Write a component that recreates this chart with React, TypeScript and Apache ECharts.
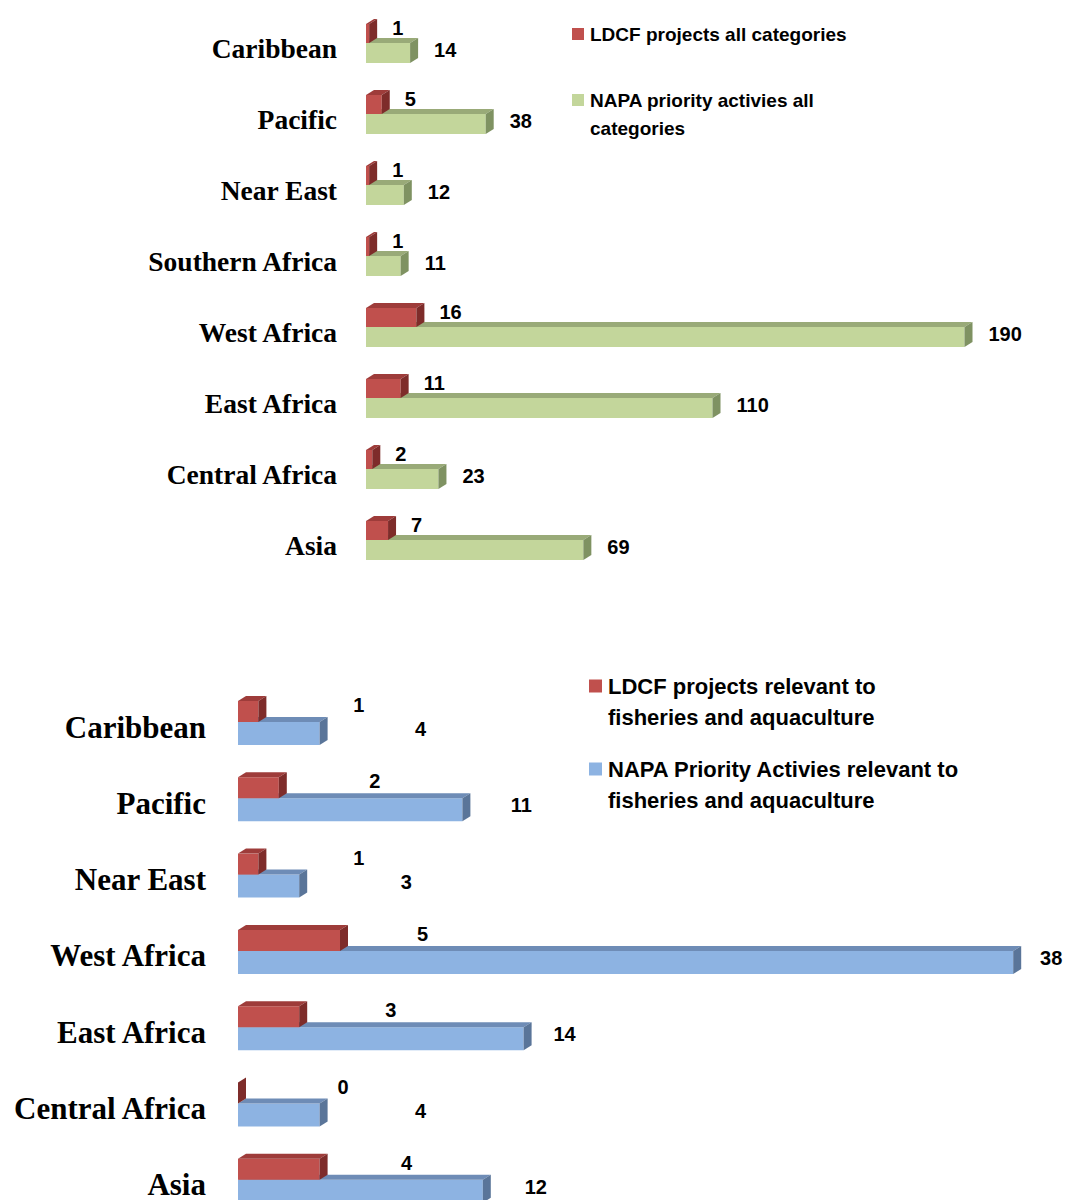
import React, { useEffect, useRef } from "react";
import * as echarts from "echarts";

const categoriesTop = ["Caribbean", "Pacific", "Near East", "Southern Africa", "West Africa", "East Africa", "Central Africa", "Asia"];
const ldcfAll = [1, 5, 1, 1, 16, 11, 2, 7];
const napaAll = [14, 38, 12, 11, 190, 110, 23, 69];

const categoriesBottom = ["Caribbean", "Pacific", "Near East", "West Africa", "East Africa", "Central Africa", "Asia"];
const ldcfFish = [1, 2, 1, 5, 3, 0, 4];
const napaFish = [4, 11, 3, 38, 14, 4, 12];

const legendTop = ["LDCF projects all categories", "NAPA priority activies all\ncategories"];
const legendBottom = ["LDCF projects relevant to\nfisheries and aquaculture", "NAPA Priority Activies relevant to\nfisheries and aquaculture"];

const RED = { front: "#C0504D", top: "#9E3C3A", side: "#7E2C2A" };
const GREEN = { front: "#C3D69B", top: "#99AA78", side: "#7F9262" };
const BLUE = { front: "#8DB3E2", top: "#6E8CB6", side: "#5A7599" };

const DX = 8;
const DY = 5;

function bar3d(x0: number, x1: number, yTop: number, yBot: number, c: any) {
  return [
    { type: "rect", shape: { x: x0, y: yTop, width: Math.max(x1 - x0, 0), height: yBot - yTop }, style: { fill: c.front } },
    { type: "polygon", shape: { points: [[x0, yTop], [x1, yTop], [x1 + DX, yTop - DY], [x0 + DX, yTop - DY]] }, style: { fill: c.top } },
    { type: "polygon", shape: { points: [[x1, yTop], [x1 + DX, yTop - DY], [x1 + DX, yBot - DY], [x1, yBot]] }, style: { fill: c.side } },
  ];
}

function label(text: string, x: number, y: number, size: number, align: string) {
  return {
    type: "text",
    x,
    y,
    style: {
      text,
      fill: "#000",
      fontFamily: "Liberation Sans",
      fontWeight: "bold",
      fontSize: size,
      align,
      verticalAlign: "middle",
      textAlign: align,
      textVerticalAlign: "middle",
    },
  };
}

function makeSeries(
  data: number[],
  axisIndex: number,
  colors: any,
  fTop: number,
  fBot: number,
  z: number,
  labelPos: (x0: number, x1: number, c: number, v: number) => [number, number],
  labelAlign: string,
  fontSize: number
) {
  return {
    type: "custom",
    xAxisIndex: axisIndex,
    yAxisIndex: axisIndex,
    z,
    data: data.map((v, i) => [v, i]),
    encode: { x: 0, y: 1 },
    renderItem: (params: any, api: any) => {
      const v = api.value(0);
      const ci = api.value(1);
      const p0 = api.coord([0, ci]);
      const p1 = api.coord([v, ci]);
      const c = p0[1];
      const [lx, ly] = labelPos(p0[0], p1[0], c, v);
      return {
        type: "group",
        children: [...bar3d(p0[0], p1[0], c + fTop, c + fBot, colors), label(String(v), lx, ly, fontSize, labelAlign)],
      };
    },
  };
}

function legendItem(x: number, y: number, color: string, text: string, size: number, lineH: number, sq: number) {
  return [
    { type: "rect", shape: { x, y: y - sq / 2, width: sq, height: sq }, style: { fill: color } },
    {
      type: "text",
      x: x + sq + 6,
      y: y - lineH / 2,
      style: {
        text,
        fill: "#000",
        fontFamily: "Liberation Sans",
        fontWeight: "bold",
        fontSize: size,
        lineHeight: lineH,
        align: "left",
        verticalAlign: "top",
        textAlign: "left",
        textVerticalAlign: "top",
      },
    },
  ];
}

export default function App() {
  const ref = useRef<HTMLDivElement>(null);
  useEffect(() => {
    document.body.style.margin = "0";
    const chart = echarts.init(ref.current!, null, { renderer: "svg" });
    const option: any = {
      animation: false,
      backgroundColor: "#ffffff",
      grid: [
        { left: 366, top: 12.5, width: 630, height: 568 },
        { left: 238, top: 688.85, width: 816, height: 534.1 },
      ],
      xAxis: [
        { type: "value", gridIndex: 0, min: 0, max: 200, show: false },
        { type: "value", gridIndex: 1, min: 0, max: 40, show: false },
      ],
      yAxis: [
        {
          type: "category",
          gridIndex: 0,
          inverse: true,
          data: categoriesTop,
          axisLine: { show: false },
          axisTick: { show: false },
          splitLine: { show: false },
          axisLabel: { margin: 29, color: "#000", fontFamily: "Liberation Serif", fontWeight: "bold", fontSize: 27.5 },
        },
        {
          type: "category",
          gridIndex: 1,
          inverse: true,
          data: categoriesBottom,
          axisLine: { show: false },
          axisTick: { show: false },
          splitLine: { show: false },
          axisLabel: { margin: 32, color: "#000", fontFamily: "Liberation Serif", fontWeight: "bold", fontSize: 31 },
        },
      ],
      series: [
        makeSeries(napaAll, 0, GREEN, -5, 15, 2, (x0, x1, c) => [x1 + DX + 16, c + 2], "left", 20),
        makeSeries(ldcfAll, 0, RED, -24, -5, 3, (x0, x1, c) => [x1 + DX + 15, c - 20], "left", 20),
        makeSeries(napaFish, 1, BLUE, -5, 18, 2, (x0, x1, c, v) => [x1 + Math.max(38, 125 - 6 * v), c + 2], "center", 20),
        makeSeries(ldcfFish, 1, RED, -26, -5, 3, (x0, x1, c) => [x0 + 105 + 0.78 * (x1 - x0), c - 22], "center", 20),
      ],
      graphic: [
        ...legendItem(572, 34, RED.front, legendTop[0], 19, 28, 12),
        ...legendItem(572, 100, GREEN.front, legendTop[1], 19, 28, 12),
        ...legendItem(589, 686, RED.front, legendBottom[0], 22, 31, 13),
        ...legendItem(589, 769, BLUE.front, legendBottom[1], 22, 31, 13),
      ],
    };
    chart.setOption(option);
    return () => chart.dispose();
  }, []);
  return (
    <div style={{ width: 1069, height: 1200, overflow: "hidden" }}>
      <div ref={ref} style={{ width: 1069, height: 1240 }} />
    </div>
  );
}
